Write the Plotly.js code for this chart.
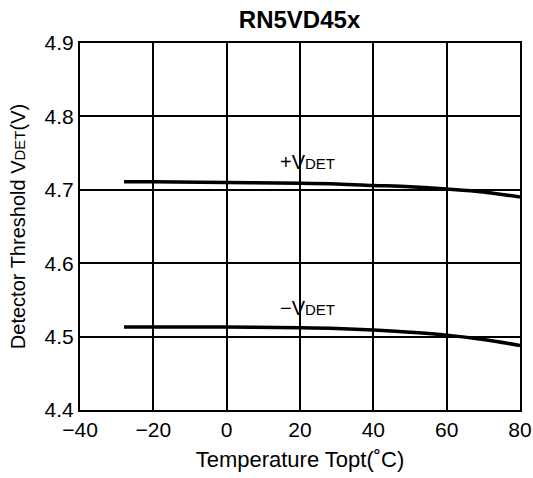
<!DOCTYPE html>
<html>
<head>
<meta charset="utf-8">
<script src="https://cdn.plot.ly/plotly-3.0.1.min.js"></script>
<style>html,body{margin:0;padding:0;background:#fff;}#chart{width:533px;height:478px;}</style>
</head>
<body>
<div id="chart"></div>
<script>
var temps = [-28, -20, 0, 20, 30, 40, 50, 60, 70, 80];
var plusVdet = [4.711, 4.711, 4.710, 4.709, 4.708, 4.706, 4.704, 4.701, 4.697, 4.690];
var minusVdet = [4.513, 4.513, 4.513, 4.512, 4.511, 4.509, 4.506, 4.502, 4.496, 4.488];
var xTickVals = [-40, -20, 0, 20, 40, 60, 80];
var xTickText = ["\u221240", "\u221220", "0", "20", "40", "60", "80"];
var yTickVals = [4.4, 4.5, 4.6, 4.7, 4.8, 4.9];
var yTickText = ["4.4", "4.5", "4.6", "4.7", "4.8", "4.9"];
var labels = [
  {x: 22, y: 4.738, text: "+V<span style=\"font-size:15px\">DET</span>"},
  {x: 22, y: 4.539, text: "\u2212V<span style=\"font-size:15px\">DET</span>"}
];

var font = "Liberation Sans, Arial, sans-serif";
var traces = [
  {x: temps, y: plusVdet, mode: "lines", line: {color: "#000", width: 3.5, shape: "spline"}, hoverinfo: "skip"},
  {x: temps, y: minusVdet, mode: "lines", line: {color: "#000", width: 3.5, shape: "spline"}, hoverinfo: "skip"}
];
var axisCommon = {
  showgrid: true, gridcolor: "#000", gridwidth: 2,
  showline: true, linecolor: "#000", linewidth: 2, mirror: true,
  zeroline: false, ticks: "", tickfont: {family: font, size: 21, color: "#000"}
};
var layout = {
  width: 533, height: 478,
  margin: {l: 80, r: 13, t: 43, b: 68},
  paper_bgcolor: "#fff", plot_bgcolor: "#fff",
  showlegend: false,
  title: {text: "<b>RN5VD45x</b>", font: {family: font, size: 24, color: "#000"}, x: 0.562, xanchor: "center", y: 0.96, yanchor: "middle"},
  xaxis: Object.assign({}, axisCommon, {
    range: [-40, 80], tickmode: "array", tickvals: xTickVals, ticktext: xTickText,
    title: {text: "Temperature Topt(\u02daC)", font: {family: font, size: 22, color: "#000"}, standoff: 11}
  }),
  yaxis: Object.assign({}, axisCommon, {
    range: [4.4, 4.9], tickmode: "array", tickvals: yTickVals, ticktext: yTickText,
    title: {text: "Detector Threshold V<span style=\"font-size:15px\">DET</span>(V)", font: {family: font, size: 20, color: "#000"}, standoff: 14}
  }),
  annotations: labels.map(function (l) {
    return {x: l.x, y: l.y, text: l.text, showarrow: false, xref: "x", yref: "y",
      font: {family: font, size: 20, color: "#000"}};
  })
};
Plotly.newPlot("chart", traces, layout, {staticPlot: true, displayModeBar: false});
</script>
</body>
</html>
